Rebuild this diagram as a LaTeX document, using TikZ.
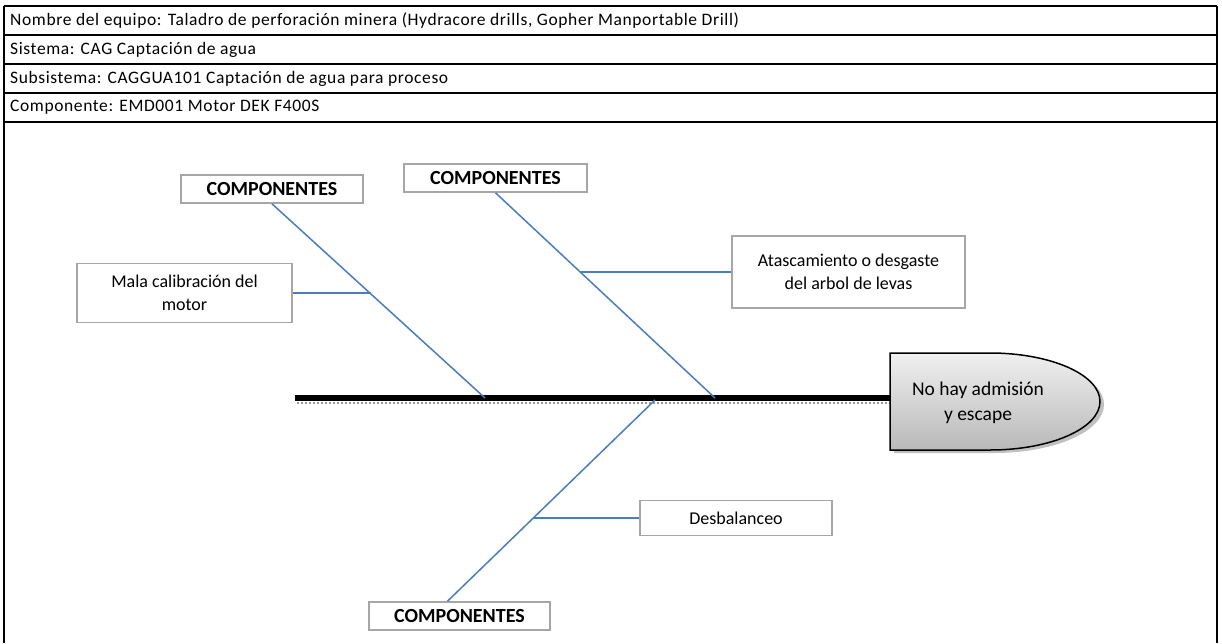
\documentclass[tikz,border=0pt]{standalone}
\usepackage{fontspec}
\setmainfont{Carlito}
\newfontfamily\cellfont{Carlito}[LetterSpace=3.5]
\usetikzlibrary{calc}

\definecolor{fishblue}{RGB}{74,126,187}
\definecolor{fishgray}{RGB}{166,166,166}
\definecolor{fishshade}{RGB}{150,150,150}

\begin{document}
\begin{tikzpicture}[x=1pt,y=-1pt,
    cell/.style={anchor=west,inner sep=0pt,font=\cellfont\fontsize{17.5}{20}\selectfont},
    causebox/.style={draw=fishgray,line width=1.6pt,fill=white,align=center,
      inner sep=2pt,font=\fontsize{18}{23}\selectfont},
    compbox/.style={causebox,font=\bfseries\fontsize{20}{22}\selectfont},
    bone/.style={fishblue,line width=1.5pt}]
    \useasboundingbox (0,0) rectangle (1222,643);
    % ficha del equipo
    \draw[line width=1.2pt] (4,6) -- (4,643);
    \draw[line width=2.6pt] (1217,6) -- (1217,643);
    \foreach \y in {6,35,64,93,122} {
      \draw[line width=1.8pt] (4,\y) -- (1217,\y);
    }
    \node[cell] (equipo) at (10,20.5) {Nombre del equipo: Taladro de perforación minera (Hydracore drills, Gopher Manportable Drill)};
    \node[cell] (sistema) at (10,49.5) {Sistema: CAG Captación de agua};
    \node[cell] (subsistema) at (10,78.5) {Subsistema: CAGGUA101 Captación de agua para proceso};
    \node[cell] (componente) at (10,107.5) {Componente: EMD001 Motor DEK F400S};

    % espina y cabeza
    \draw[fishshade,line width=2pt,dotted] (297,403) -- (890,403);
    \draw[line width=6pt] (295,398) -- (890,398);
    \fill[fishshade!60] (894,356) -- (994,356) arc[start angle=90,end angle=-90,x radius=110pt,y radius=48.5pt] -- (894,453) -- cycle;
    \shade[draw=black,line width=1.5pt,top color=gray!12,bottom color=gray!55]
      (890,353) -- (990,353) arc[start angle=90,end angle=-90,x radius=110pt,y radius=48.5pt] -- (890,450) -- cycle;
    \node[align=center,font=\fontsize{19.5}{25}\selectfont] (efecto) at (978,403) {No hay admisión\\y escape};
    \coordinate (j1) at (485,398);
    \coordinate (j2) at (715,398);
    \coordinate (j3) at (655,400);

    % causas
    \node[compbox,minimum width=182pt,minimum height=28pt] (comp1) at (272,189) {COMPONENTES};
    \node[compbox,minimum width=183pt,minimum height=28pt] (comp2) at (495.5,178) {COMPONENTES};
    \node[compbox,minimum width=181pt,minimum height=28pt] (comp3) at (459.5,616) {COMPONENTES};
    \node[causebox,minimum width=215pt,minimum height=59pt] (mala) at (184.5,293) {Mala calibración del\\motor};
    \node[causebox,minimum width=233pt,minimum height=72pt] (levas) at (848.5,272) {Atascamiento o desgaste\\del arbol de levas};
    \node[causebox,minimum width=192pt,minimum height=35pt] (desb) at (736,518) {Desbalanceo};

    \coordinate (k1) at ($(comp1.south)!.464!(j1)$);
    \coordinate (k2) at ($(comp2.south)!.388!(j2)$);
    \coordinate (k3) at ($(j3)!.587!([xshift=-12pt]comp3.north)$);
    \draw[bone] (comp1.south) -- (j1);
    \draw[bone] (comp2.south) -- (j2);
    \draw[bone] (j3) -- ([xshift=-12pt]comp3.north);
    \draw[bone] (mala.east) -- (mala.east -| k1);
    \draw[bone] (levas.west -| k2) -- (levas.west);
    \draw[bone] (desb.west -| k3) -- (desb.west);
  \end{tikzpicture}
\end{document}
